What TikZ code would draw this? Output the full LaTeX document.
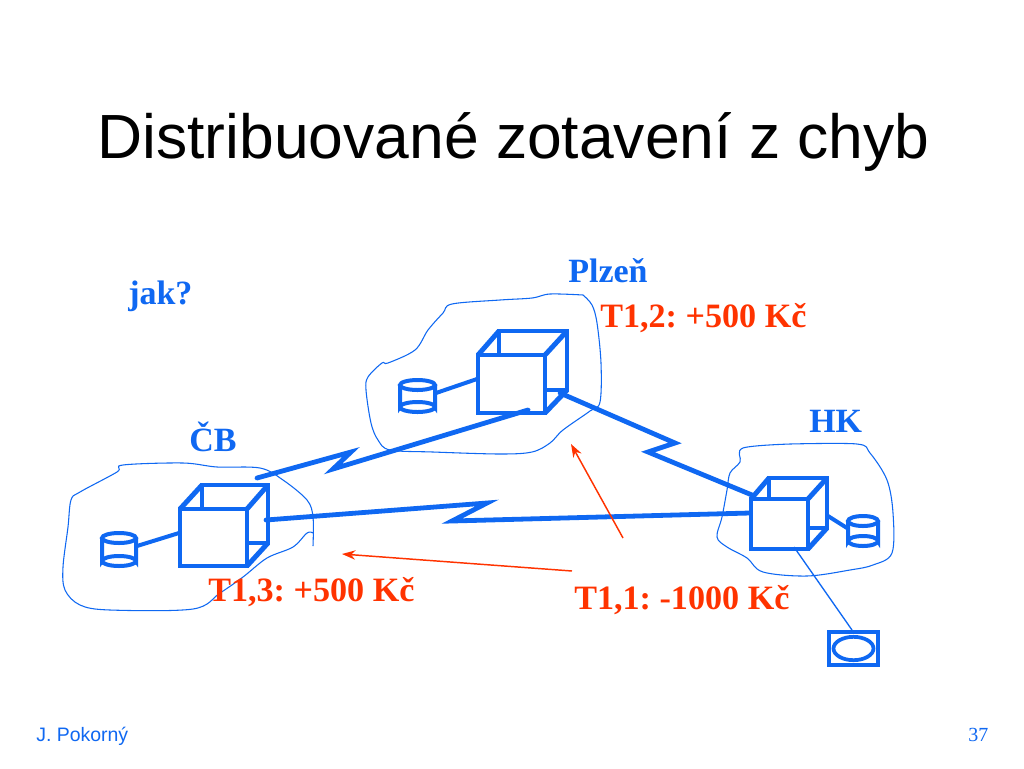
\documentclass[tikz,border=0pt]{standalone}
\usepackage{fontspec}
\setmainfont{Liberation Serif}
\newfontfamily\arialf{Liberation Sans}
\definecolor{nblue}{HTML}{0F68F2}
\definecolor{nred}{HTML}{FF3300}
\usetikzlibrary{arrows.meta,shapes.geometric}
\frenchspacing
\tikzset{
  x=0.75pt,y=-0.75pt,
  blob/.style={draw=nblue,line width=0.8pt,smooth,tension=0.55},
  cubeline/.style={draw=nblue,line width=3.7pt,line join=miter},
  cylline/.style={draw=nblue,line width=3pt},
  link/.style={draw=nblue,line width=3.6pt,line join=miter,line cap=round},
  thin link/.style={draw=nblue,line width=3pt},
  redarrow/.style={draw=nred,line width=1.1pt,-{Stealth[length=10pt,width=7pt]}},
  place/.style={anchor=base west,inner sep=0,text=nblue,font=\fontsize{25.5pt}{30pt}\selectfont\bfseries},
  amount/.style={anchor=base west,inner sep=0,text=nred,font=\fontsize{25.6pt}{30pt}\selectfont\bfseries},
  footer/.style={anchor=base west,inner sep=0,text=nblue,font=\arialf\fontsize{14.6pt}{16pt}\selectfont}
}
\newcommand{\cubeat}[8]{%
  \draw[cubeline] (#5,#6) rectangle (#7,#8);
  \draw[cubeline] (#1,#2) -- (#5,#6) (#3,#2) -- (#7,#6) (#3,#4) -- (#7,#8);
  \draw[cubeline,fill=white] (#1,#2) rectangle (#3,#4);
}
\newcommand{\cylat}[5]{%
  \draw[cylline,fill=white]
    (#1,#2+#5) -- (#1,#4-#5) arc[start angle=180,end angle=360,x radius={(#3-#1)/2},y radius=#5]
    -- (#3,#2+#5);
  \draw[cylline] ({(#1+#3)/2},#2+#5) ellipse[x radius={(#3-#1)/2},y radius=#5];
  \draw[cylline] (#1,#4-#5) arc[start angle=180,end angle=0,x radius={(#3-#1)/2},y radius=#5];
}
\begin{document}
\begin{tikzpicture}
\useasboundingbox (0,0) rectangle (1024,768);
\fill[white] (0,0) rectangle (1024,768);

\node[anchor=base west,inner sep=0,font=\arialf\fontsize{46.8pt}{56pt}\selectfont] (title) at (97,158) {Distribuované zotavení z chyb};

% blobs
\draw[blob] plot coordinates {(583,295)(550,294)(532,298)(500,300)(452,304)(443,313)(428,330)(415,350)(388,363)(382,363)(368,377)(366,390)(371,423)(378,440)(390,450)(433,452)(500,454)(532,452)(550,443)(563,430)(590,411)(600,402)(601,363)(597,323)(592,305)(583,295)};
\draw[blob] plot coordinates {(313,546)(313,517)(307,500)(283,480)(260,468)(217,467)(183,463)(123,465)(117,472)(80,492)(71,500)(68,527)(63,567)(65,590)(80,605)(110,610)(193,609)(220,593)(243,577)(267,558)(293,547)(307,533)(313,533)};
\draw[blob] plot coordinates {(790,444)(743,448)(740,462)(730,473)(727,490)(722,517)(717,537)(727,547)(747,558)(763,572)(807,576)(850,570)(873,565)(892,553)(893,513)(887,480)(870,453)(857,444)(790,444)};

% cubes
\cubeat{478}{355}{545}{413}{499}{331}{567}{390}
\cubeat{180}{509}{247}{566}{202}{485}{268}{543}
\cubeat{751}{499}{808}{549}{769}{478}{827}{528}

% cylinders
\cylat{400}{380}{435}{412}{5}
\cylat{102}{533}{136}{566}{5}
\cylat{848}{516}{878}{546}{5}

% link end points
\coordinate (plcyl) at (436,393);  \coordinate (plcube) at (477,379);
\coordinate (cbcyl) at (137,546);  \coordinate (cbcube) at (179,533);
\coordinate (hkcube) at (828,516); \coordinate (hkcyl) at (847,528);
\coordinate (cbA) at (257,478); \coordinate (plA) at (528,410);
\coordinate (cbB) at (266,520); \coordinate (hkB) at (750,513);
\coordinate (plC) at (560,393); \coordinate (hkC) at (752,495);
\coordinate (termsrc) at (794,547); \coordinate (termdst) at (852,630);

\draw[thin link] (plcyl) -- (plcube);
\draw[thin link] (cbcyl) -- (cbcube);
\draw[thin link] (hkcube) -- (hkcyl);

% zigzag links
\draw[link] (cbA) -- (351,452) -- (333,469) -- (plA);
\draw[link] (cbB) -- (487,503) -- (452,521) -- (hkB);
\draw[link] (plC) -- (675,443) -- (648,452) -- (hkC);

% terminal
\node[draw=nblue,line width=3.4pt,minimum width=36.5pt,minimum height=24.5pt,inner sep=0] (term) at (853.5,648.5) {};
\node[draw=nblue,line width=2.8pt,ellipse,minimum width=30pt,minimum height=17.5pt,inner sep=0] (termeye) at (853.5,648.5) {};
\draw[draw=nblue,line width=1pt] (termsrc) -- (termdst);

% red arrows
\coordinate (a1s) at (623,538); \coordinate (a1e) at (571,444);
\coordinate (a2s) at (572,571); \coordinate (a2e) at (342,554);
\draw[redarrow] (a1s) -- (a1e);
\draw[redarrow] (a2s) -- (a2e);

% labels
\node[place] (plzen) at (568,282) {Plzeň};
\node[place] (jak) at (128,304) {jak?};
\node[place] (cb) at (189,451) {ČB};
\node[place] (hk) at (809,432) {HK};
\node[amount] (t12) at (600,327) {T1,2: +500 Kč};
\node[amount] (t13) at (208,601) {T1,3: +500 Kč};
\node[amount] (t11) at (574,609) {T1,1: -1000 Kč};
\node[footer] (auth) at (36,741) {J. Pokorný};
\node[footer,font=\fontsize{15pt}{16pt}\selectfont] (num) at (968,741) {37};
\end{tikzpicture}
\end{document}
